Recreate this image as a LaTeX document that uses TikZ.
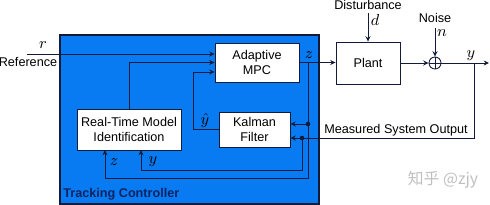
\documentclass[tikz,border=0pt]{standalone}
\usepackage{fontspec}
\setmainfont{Liberation Sans}
\newfontfamily\cjkfont{Noto Sans CJK SC}
\usetikzlibrary{arrows.meta,positioning}
\definecolor{tcblue}{RGB}{8,122,242}
\definecolor{tcline}{RGB}{18,28,58}
\definecolor{tcnavy}{RGB}{12,36,96}
\tikzset{
  tcarea/.style={
    rectangle, draw=tcline, fill=tcblue, line width=0.6pt, inner sep=0pt
  },
  tcblock/.style={
    rectangle, draw=tcline, fill=white, line width=0.5pt,
    font=\fontsize{7.2}{8.6}\selectfont, align=center, inner sep=0pt
  },
  tcsum/.style={
    circle, draw=tcline, fill=white, line width=0.5pt,
    minimum size=0.24cm, inner sep=0pt,
    path picture={
      \draw[tcline,line width=0.4pt]
        (path picture bounding box.north) -- (path picture bounding box.south)
        (path picture bounding box.west) -- (path picture bounding box.east);
    }
  },
  tcedge/.style={->,>={Stealth[length=3pt,width=2.8pt]},line width=0.5pt,draw=tcline},
  tcwire/.style={line width=0.5pt,draw=tcline},
  tcdot/.style={circle,fill=tcline,inner sep=0pt,minimum size=2.6pt},
  tcsig/.style={font=\small,inner sep=0pt},
  tctext/.style={font=\fontsize{7.2}{8.6}\selectfont,inner sep=0pt}
}

\begin{document}
\begin{tikzpicture}[x=0.02cm,y=-0.02cm]
\useasboundingbox (0,0) rectangle (490,204);
% Tracking controller area
\node[tcarea,minimum width=5.18cm,minimum height=3.38cm] (area) at (189.5,119.5) {};
\node[tctext,font=\fontsize{7.2}{8.6}\selectfont\bfseries,text=tcnavy,anchor=west] (arealab) at (63,194) {Tracking Controller};

% Blocks
\node[tcblock,minimum width=1.68cm,minimum height=0.78cm] (mpc) at (257,62.5) {Adaptive\\MPC};
\node[tcblock,minimum width=2.08cm,minimum height=0.82cm] (rtm) at (129,129.5) {Real-Time Model\\Identification};
\node[tcblock,minimum width=1.42cm,minimum height=0.7cm] (kf) at (254.5,129.5) {Kalman\\Filter};
\node[tcblock,minimum width=1.28cm,minimum height=0.84cm] (plant) at (368,63) {Plant};
\node[tcsum] (sum) at (435,63) {};

% Reference input
\coordinate (refin) at (27,54);
\draw[tcedge] (refin) -- (refin -| mpc.west);
\node[tcsig] (rlab) at (43,45) {$r$};
\node[tctext] (reflab) at (28,62) {Reference};

% Model identification and estimate into MPC
\draw[tcedge] (rtm.north) |- (mpc.west);
\coordinate (yhatc) at (193,72);
\draw[tcedge] (kf.west) -| (yhatc) -- (yhatc -| mpc.west);
\node[tcsig] (yhatlab) at (205,121) {$\hat{y}$};

% Control signal z
\coordinate (zsplit) at (308,63);
\coordinate (zdot) at (308,124);
\coordinate (zloop) at (308,178);
\coordinate (zrtm) at (105,150);
\draw[tcedge] (mpc.east) -- (mpc.east -| plant.west);
\node[tcsig] (zlab) at (309,55) {$z$};
\draw[tcedge] (zsplit) -- (zloop) -| (zrtm);
\draw[tcedge] (zdot) -- (zdot -| kf.east);
\node[tcdot] (zdotn) at (zdot) {};
\node[tcsig] (zrtmlab) at (114,162) {$z$};

% Plant, noise and measured output y
\coordinate (din) at (368,13);
\node[tctext] (distlab) at (368,4.5) {Disturbance};
\node[tcsig] (dlab) at (375,20) {$d$};
\draw[tcedge] (din) -- (plant.north);
\coordinate (nin) at (435,28);
\node[tctext] (noiselab) at (435,17.5) {Noise};
\node[tcsig] (nlab) at (442,33) {$n$};
\draw[tcedge] (nin) -- (sum.north);
\draw[tcedge] (plant.east) -- (sum.west);
\coordinate (yout) at (489,63);
\draw[tcedge] (sum.east) -- (yout);
\node[tcsig] (ylab) at (471,56) {$y$};
\coordinate (ysplit) at (474,63);
\coordinate (ymeas) at (474,138);
\draw[tcedge] (ysplit) -- (ymeas) -- (ymeas -| kf.east);
\node[tctext] (measlab) at (396,130) {Measured System Output};
\coordinate (ydot) at (302,138);
\coordinate (yloop) at (302,170);
\coordinate (yrtm) at (141,150);
\draw[tcedge] (ydot) -- (yloop) -| (yrtm);
\node[tcdot] (ydotn) at (ydot) {};
\node[tcsig] (yrtmlab) at (153,162) {$y$};

% Watermark
\node[font=\cjkfont\fontsize{9}{10}\selectfont,text=black!25,inner sep=0pt] (wmark) at (443,180) {知乎 @zjy};
\end{tikzpicture}
\end{document}
